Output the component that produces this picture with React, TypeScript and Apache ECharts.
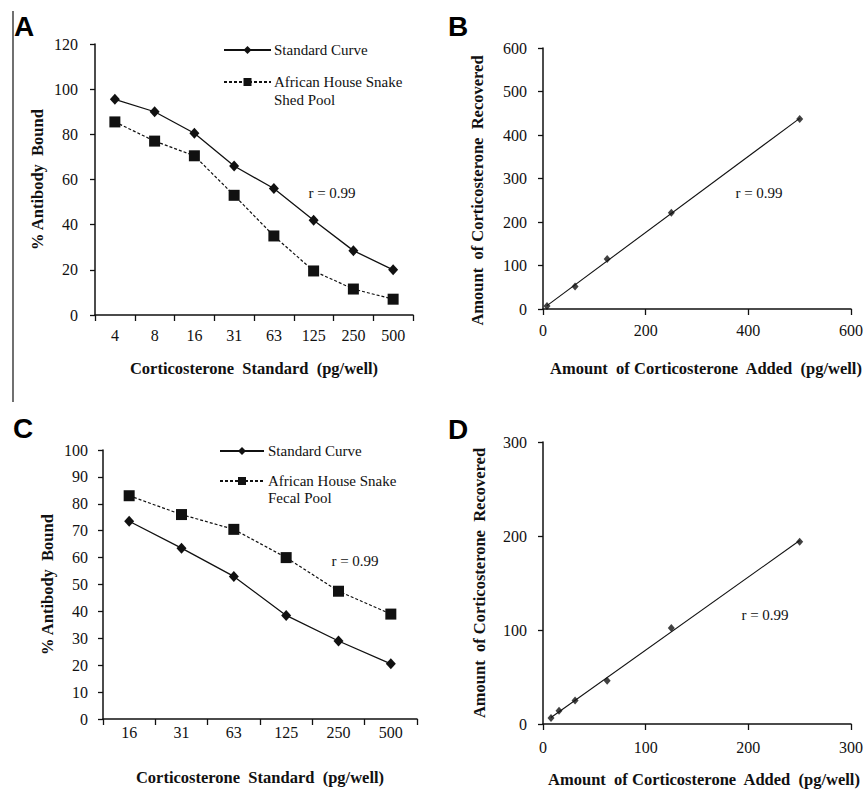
import React, { useEffect, useRef } from "react";
import * as echarts from "echarts";

// Panel A
const catsA = ["4", "8", "16", "31", "63", "125", "250", "500"];
const stdA = [95.5, 90, 80.5, 66, 56, 42, 28.5, 20];
const shedA = [85.5, 77, 70.5, 53, 35, 19.5, 11.5, 7];
// Panel B
const addedB = [7.8, 62.5, 125, 250, 500];
const recoveredB = [7, 52, 115, 221, 437];
// Panel C
const catsC = ["16", "31", "63", "125", "250", "500"];
const stdC = [73.5, 63.5, 53, 38.5, 29, 20.5];
const fecalC = [83, 76, 70.5, 60, 47.5, 39];
// Panel D
const addedD = [7.8, 15.6, 31.25, 62.5, 125, 250];
const recoveredD = [6.5, 14, 25, 46, 102, 194];

const rLabel = "r = 0.99";
const SERIF = "Liberation Serif, Times New Roman, serif";
const SANS = "Liberation Sans, Arial, sans-serif";
const INK = "#111";

function fitLine(xs: number[], ys: number[]) {
  const n = xs.length;
  const mx = xs.reduce((a, b) => a + b, 0) / n;
  const my = ys.reduce((a, b) => a + b, 0) / n;
  let sxy = 0, sxx = 0;
  for (let i = 0; i < n; i++) {
    sxy += (xs[i] - mx) * (ys[i] - my);
    sxx += (xs[i] - mx) * (xs[i] - mx);
  }
  const b = sxy / sxx;
  const a = my - b * mx;
  const x0 = Math.min(...xs);
  const x1 = Math.max(...xs);
  return [
    [x0, a + b * x0],
    [x1, a + b * x1],
  ];
}

const axisLine = { lineStyle: { color: INK, width: 1.5 } };
const labelStyle = (margin: number) => ({
  margin,
  fontSize: 16,
  color: INK,
  fontFamily: SERIF,
});
const nameStyle = (padding: number[] = [0, 0, 0, 0]) => ({
  fontSize: 16.5,
  fontWeight: "bold",
  color: INK,
  fontFamily: SERIF,
  padding,
});
const tick = (length: number) => ({ show: true, length, lineStyle: { color: INK, width: 1.3 } });

export default function App() {
  const ref = useRef<HTMLDivElement>(null);
  useEffect(() => {
    if (!ref.current) return;
    const chart = echarts.init(ref.current, null, { renderer: "svg" });
    const lineSolid = { color: INK, width: 1.3, type: "solid" };
    const lineDash = { color: INK, width: 1.2, type: [3, 2] };
    const rText = (x: number, y: number) => ({
      type: "text",
      x,
      y,
      style: { text: rLabel, fontSize: 15, fontFamily: SERIF, fill: INK, align: "center", verticalAlign: "middle" },
    });
    const letter = (t: string, x: number, y: number) => ({
      type: "text",
      x,
      y,
      style: { text: t, fontSize: 28, fontWeight: "bold", fontFamily: SANS, fill: "#000", align: "center", verticalAlign: "middle" },
    });
    const option: any = {
      animation: false,
      backgroundColor: "#fff",
      textStyle: { fontFamily: SERIF },
      grid: [
        { left: 95, top: 44, width: 318, height: 271 },
        { left: 543, top: 48, width: 308, height: 261 },
        { left: 103, top: 450, width: 314, height: 269 },
        { left: 543, top: 442, width: 314, height: 282 },
      ],
      legend: [
        {
          orient: "vertical",
          left: 223,
          top: 41,
          padding: 0,
          itemWidth: 47,
          itemHeight: 10,
          itemGap: -4,
          selectedMode: false,
          data: ["Standard Curve", "African House Snake\nShed Pool"],
          formatter: (n: string) => (n.indexOf("\n") >= 0 ? " \n" + n : n),
          textStyle: { fontSize: 15, lineHeight: 18, color: INK, fontFamily: SERIF, padding: [0, 0, 0, -2] },
        },
        {
          orient: "vertical",
          left: 219,
          top: 442.5,
          padding: 0,
          itemWidth: 44,
          itemHeight: 10,
          itemGap: -4,
          selectedMode: false,
          data: ["Standard Curve", "African House Snake\nFecal Pool"],
          formatter: (n: string) => (n.indexOf("\n") >= 0 ? " \n" + n : n),
          textStyle: { fontSize: 15, lineHeight: 17, color: INK, fontFamily: SERIF, padding: [0, 0, 0, -1] },
        },
      ],
      xAxis: [
        {
          gridIndex: 0,
          type: "category",
          data: catsA,
          boundaryGap: true,
          axisLine,
          axisTick: tick(6),
          axisLabel: labelStyle(12),
          name: "Corticosterone  Standard  (pg/well)",
          nameLocation: "middle",
          nameGap: 45,
          nameTextStyle: nameStyle(),
        },
        {
          gridIndex: 1,
          type: "value",
          min: 0,
          max: 600,
          interval: 200,
          splitLine: { show: false },
          axisLine,
          axisTick: tick(6),
          axisLabel: labelStyle(13),
          name: "Amount  of Corticosterone  Added  (pg/well)",
          nameLocation: "middle",
          nameGap: 51,
          nameTextStyle: nameStyle([0, 0, 0, 18]),
        },
        {
          gridIndex: 2,
          type: "category",
          data: catsC,
          boundaryGap: true,
          axisLine,
          axisTick: tick(6),
          axisLabel: labelStyle(5),
          name: "Corticosterone  Standard  (pg/well)",
          nameLocation: "middle",
          nameGap: 50,
          nameTextStyle: nameStyle(),
        },
        {
          gridIndex: 3,
          type: "value",
          min: 0,
          max: 300,
          interval: 100,
          splitLine: { show: false },
          axisLine,
          axisTick: tick(6),
          axisLabel: labelStyle(15),
          name: "Amount  of Corticosterone  Added  (pg/well)",
          nameLocation: "middle",
          nameGap: 47,
          nameTextStyle: nameStyle([0, 0, 0, 14]),
        },
      ],
      yAxis: [
        {
          gridIndex: 0,
          type: "value",
          min: 0,
          max: 120,
          interval: 20,
          splitLine: { show: false },
          axisLine: { show: true, ...axisLine },
          axisTick: tick(5),
          axisLabel: labelStyle(17),
          name: "% Antibody  Bound",
          nameLocation: "middle",
          nameGap: 49,
          nameTextStyle: nameStyle(),
        },
        {
          gridIndex: 1,
          type: "value",
          min: 0,
          max: 600,
          interval: 100,
          splitLine: { show: false },
          axisLine: { show: true, ...axisLine },
          axisTick: tick(5),
          axisLabel: labelStyle(16),
          name: "Amount  of Corticosterone  Recovered",
          nameLocation: "middle",
          nameGap: 57.5,
          nameTextStyle: nameStyle([0, 24, 0, 0]),
        },
        {
          gridIndex: 2,
          type: "value",
          min: 0,
          max: 100,
          interval: 10,
          splitLine: { show: false },
          axisLine: { show: true, ...axisLine },
          axisTick: tick(5),
          axisLabel: labelStyle(15),
          name: "% Antibody  Bound",
          nameLocation: "middle",
          nameGap: 47,
          nameTextStyle: nameStyle(),
        },
        {
          gridIndex: 3,
          type: "value",
          min: 0,
          max: 300,
          interval: 100,
          splitLine: { show: false },
          axisLine: { show: true, ...axisLine },
          axisTick: tick(5),
          axisLabel: labelStyle(16),
          name: "Amount  of Corticosterone  Recovered",
          nameLocation: "middle",
          nameGap: 55,
          nameTextStyle: nameStyle(),
        },
      ],
      series: [
        {
          name: "Standard Curve",
          type: "line",
          xAxisIndex: 0,
          yAxisIndex: 0,
          data: stdA,
          symbol: "diamond",
          symbolSize: [10, 11],
          lineStyle: lineSolid,
          itemStyle: { color: INK },
        },
        {
          name: "African House Snake\nShed Pool",
          type: "line",
          xAxisIndex: 0,
          yAxisIndex: 0,
          data: shedA,
          symbol: "rect",
          symbolSize: 11,
          lineStyle: lineDash,
          itemStyle: { color: INK },
        },
        {
          name: "Recovery B",
          type: "line",
          xAxisIndex: 1,
          yAxisIndex: 1,
          data: fitLine(addedB, recoveredB),
          symbol: "none",
          lineStyle: { color: INK, width: 1.1 },
        },
        {
          name: "Recovery B points",
          type: "scatter",
          xAxisIndex: 1,
          yAxisIndex: 1,
          data: addedB.map((x, i) => [x, recoveredB[i]]),
          symbol: "diamond",
          symbolSize: [7, 8],
          itemStyle: { color: INK },
        },
        {
          name: "Standard Curve",
          type: "line",
          xAxisIndex: 2,
          yAxisIndex: 2,
          data: stdC,
          symbol: "diamond",
          symbolSize: [10, 11],
          lineStyle: lineSolid,
          itemStyle: { color: INK },
        },
        {
          name: "African House Snake\nFecal Pool",
          type: "line",
          xAxisIndex: 2,
          yAxisIndex: 2,
          data: fecalC,
          symbol: "rect",
          symbolSize: 11,
          lineStyle: lineDash,
          itemStyle: { color: INK },
        },
        {
          name: "Recovery D",
          type: "line",
          xAxisIndex: 3,
          yAxisIndex: 3,
          data: fitLine(addedD, recoveredD),
          symbol: "none",
          lineStyle: { color: INK, width: 1.1 },
        },
        {
          name: "Recovery D points",
          type: "scatter",
          xAxisIndex: 3,
          yAxisIndex: 3,
          data: addedD.map((x, i) => [x, recoveredD[i]]),
          symbol: "diamond",
          symbolSize: [7, 8],
          itemStyle: { color: INK },
        },
      ],
      graphic: [
        { type: "line", shape: { x1: 13, y1: 11, x2: 13, y2: 402 }, style: { stroke: INK, lineWidth: 1.2 } },
        letter("A", 24, 26),
        letter("B", 458, 26),
        letter("C", 23, 428),
        letter("D", 458, 429),
        rText(332, 193),
        rText(759, 193),
        rText(355, 561),
        rText(765, 615),
      ],
    };
    chart.setOption(option);
    return () => chart.dispose();
  }, []);
  return (
    <div
      ref={ref}
      style={{ position: "fixed", left: 0, top: 0, width: 866, height: 789, background: "#fff" }}
    />
  );
}
